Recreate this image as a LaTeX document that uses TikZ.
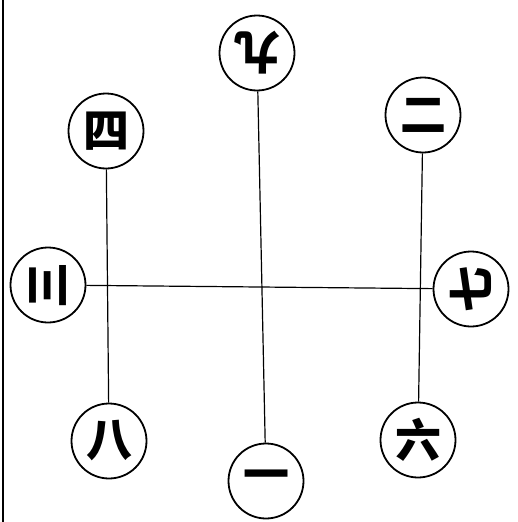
\documentclass[tikz,border=0pt]{standalone}
\usepackage{fontspec}
\newfontfamily\cjk{Noto Sans CJK SC}
\tikzset{
  shu/.style={draw, circle, line width=1.8pt, minimum size=75pt, inner sep=0pt,
    font=\cjk\bfseries\fontsize{46}{46}\selectfont},
  gang/.style={line width=1.2pt}
}
\begin{document}
\begin{tikzpicture}[x=1pt,y=-1pt]
\useasboundingbox (0,0) rectangle (518,522);

% Bord
\draw[line width=1.6pt] (3,0) -- (3,522);

% Cercles
\node[shu, rotate=180] (jiu) at (257,53) {九};
\node[shu] (si) at (106,131) {四};
\node[shu] (er) at (423,115) {二};
\node[shu, rotate=90] (san) at (48,285) {三};
\node[shu, rotate=90] (qi) at (471,289) {七};
\node[shu] (ba) at (109,441) {八};
\node[shu] (yi) at (266,481) {一};
\node[shu] (liu) at (418,440) {六};

% Traits
\draw[gang] (jiu) -- (yi);
\draw[gang] (si) -- (ba);
\draw[gang] (er) -- (liu);
\draw[gang] (san) -- (qi);

\end{tikzpicture}
\end{document}
